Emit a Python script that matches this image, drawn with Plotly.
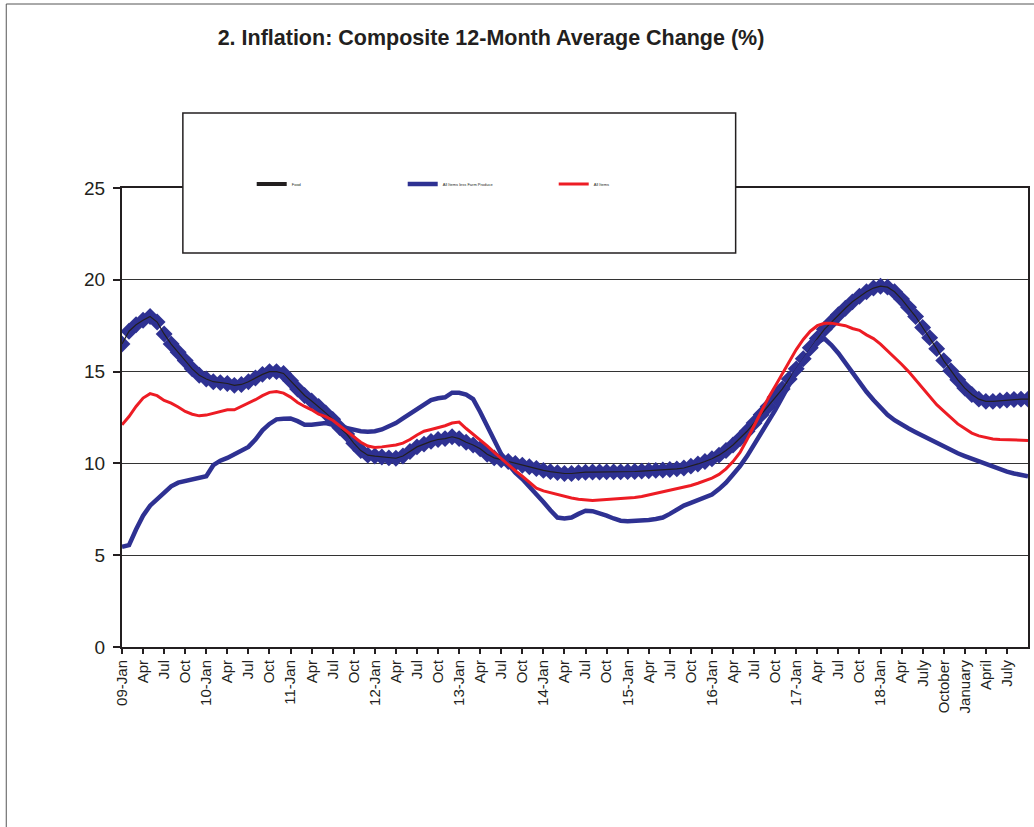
import plotly.graph_objects as go

# ---------------- data (monthly, Jan 2009 - Oct 2019) ----------------
months = [f"{y}-{m:02d}" for y in range(2009, 2020) for m in range(1, 13)][:130]

food = [
    16.5, 17.2, 17.55, 17.8, 18.0, 17.7, 17.05, 16.5, 16.05, 15.6, 15.15, 14.8,
    14.6, 14.45, 14.4, 14.35, 14.25, 14.3, 14.45, 14.65, 14.85, 15.0, 15.0, 14.9,
    14.5, 14.05, 13.7, 13.4, 13.1, 12.75, 12.4, 11.95, 11.6, 11.1, 10.7, 10.45,
    10.4, 10.35, 10.3, 10.28, 10.4, 10.65, 10.9, 11.05, 11.2, 11.3, 11.35, 11.45,
    11.35, 11.15, 11.0, 10.8, 10.5, 10.3, 10.2, 10.1, 10.0, 9.9, 9.82, 9.72,
    9.62, 9.55, 9.5, 9.45, 9.45, 9.5, 9.52, 9.53, 9.53, 9.54, 9.54, 9.54,
    9.55, 9.56, 9.58, 9.6, 9.62, 9.64, 9.67, 9.7, 9.75, 9.85, 9.97, 10.1,
    10.25, 10.45, 10.7, 11.0, 11.35, 11.75, 12.2, 12.65, 13.1, 13.6, 14.05, 14.6,
    15.15, 15.7, 16.3, 16.8, 17.3, 17.7, 18.1, 18.45, 18.8, 19.1, 19.35, 19.55,
    19.65, 19.6, 19.35, 18.95, 18.5, 18.0, 17.4, 16.85, 16.25, 15.6, 15.05, 14.55,
    14.1, 13.75, 13.5, 13.38, 13.38, 13.42, 13.45, 13.48, 13.5, 13.5,
]

core = [
    5.45, 5.55, 6.4, 7.15, 7.7, 8.05, 8.4, 8.75, 8.95, 9.05, 9.1, 9.2,
    9.3, 9.9, 10.15, 10.3, 10.5, 10.65, 10.9, 11.3, 11.8, 12.15, 12.4, 12.43,
    12.45, 12.3, 12.1, 12.1, 12.15, 12.2, 12.1, 12.0, 11.9, 11.8, 11.75, 11.73,
    11.75, 11.85, 12.0, 12.2, 12.45, 12.7, 12.95, 13.25, 13.45, 13.55, 13.6, 13.85,
    13.85, 13.75, 13.5, 12.8, 12.0, 11.2, 10.5, 9.95, 9.5, 9.15, 8.75, 8.3,
    7.9, 7.45, 7.05, 7.0, 7.05, 7.25, 7.42, 7.4, 7.3, 7.15, 7.0, 6.88,
    6.85, 6.86, 6.9, 6.92, 6.97, 7.05, 7.25, 7.5, 7.7, 7.85, 8.0, 8.15,
    8.3, 8.6, 8.95, 9.4, 9.85, 10.4, 11.0, 11.6, 12.25, 12.9, 13.6, 14.3,
    15.0, 15.55, 16.05, 16.6, 16.8, 16.45, 16.0, 15.45, 14.95, 14.4, 13.9, 13.45,
    13.05, 12.65, 12.35, 12.1, 11.9, 11.7, 11.5, 11.3, 11.1, 10.9, 10.75, 10.55,
    10.4, 10.25, 10.1, 9.95, 9.8, 9.68, 9.55, 9.45, 9.35, 9.3,
]

all_items = [
    12.1, 12.55, 13.1, 13.56, 13.8, 13.69, 13.43, 13.28, 13.07, 12.83, 12.68, 12.59,
    12.63, 12.74, 12.83, 12.92, 12.92, 13.1, 13.28, 13.47, 13.69, 13.87, 13.92, 13.83,
    13.61, 13.32, 13.1, 12.92, 12.68, 12.55, 12.35, 12.05, 11.7, 11.4, 11.15, 10.95,
    10.87, 10.9, 10.95, 11.0, 11.1, 11.3, 11.55, 11.75, 11.85, 11.95, 12.05, 12.2,
    12.25, 11.9, 11.6, 11.3, 10.95, 10.6, 10.25, 9.9, 9.6, 9.3, 9.0, 8.65,
    8.5, 8.4, 8.3, 8.2, 8.12, 8.05, 8.0, 7.98, 8.0, 8.02, 8.05, 8.07,
    8.1, 8.14, 8.2, 8.28, 8.37, 8.46, 8.55, 8.63, 8.72, 8.8, 8.92, 9.05,
    9.2, 9.4, 9.7, 10.1, 10.6, 11.3, 12.05, 12.8, 13.55, 14.2, 14.85, 15.5,
    16.2, 16.75, 17.2, 17.5, 17.63, 17.64, 17.58, 17.5, 17.35, 17.25, 17.0, 16.8,
    16.5, 16.15, 15.8, 15.4, 15.0, 14.55, 14.1, 13.65, 13.2, 12.85, 12.5, 12.15,
    11.9, 11.65, 11.5, 11.4, 11.33, 11.3, 11.28, 11.27, 11.25, 11.25,
]

tick_labels = [
    "09-Jan", "Apr", "Jul", "Oct", "10-Jan", "Apr", "Jul", "Oct",
    "11-Jan", "Apr", "Jul", "Oct", "12-Jan", "Apr", "Jul", "Oct",
    "13-Jan", "Apr", "Jul", "Oct", "14-Jan", "Apr", "Jul", "Oct",
    "15-Jan", "Apr", "Jul", "Oct", "16-Jan", "Apr", "Jul", "Oct",
    "17-Jan", "Apr", "Jul", "Oct", "18-Jan", "Apr", "July", "October",
    "January", "April", "July",
]
tick_vals = months[::3][:len(tick_labels)]

series_names = ["Food", "All Items less Farm Produce", "All Items"]

BLUE = "#2E3192"
RED = "#ED1C24"
BLACK = "#231F20"
FONT = "Liberation Sans, Arial, sans-serif"

fig = go.Figure()

# Food: blue diamond markers on a thin black line
fig.add_trace(go.Scatter(
    x=months, y=food, mode="markers", showlegend=False,
    marker=dict(symbol="diamond", size=13, color=BLUE, line=dict(width=0)),
    hoverinfo="skip",
))
fig.add_trace(go.Scatter(
    x=months, y=food, mode="lines", name=series_names[0], showlegend=False,
    line=dict(color=BLACK, width=1.2),
))
# legend-only entry for Food (thick black sample as in the original key)
fig.add_trace(go.Scatter(
    x=[None], y=[None], mode="lines", name=series_names[0],
    line=dict(color=BLACK, width=4),
))
fig.add_trace(go.Scatter(
    x=months, y=core, mode="lines", name=series_names[1],
    line=dict(color=BLUE, width=4.5),
))
fig.add_trace(go.Scatter(
    x=months, y=all_items, mode="lines", name=series_names[2],
    line=dict(color=RED, width=3),
))

W, H = 1034, 827
L, R, T, B = 122, 1030, 188, 647
pw, ph = R - L, B - T

def px_x(p):
    return (p - L) / pw

def px_y(p):
    return (B - p) / ph

fig.update_layout(
    width=W, height=H,
    margin=dict(l=L, r=W - R, t=T, b=H - B, pad=0),
    paper_bgcolor="white", plot_bgcolor="white",
    font=dict(family=FONT, color=BLACK),
    title=dict(
        text="<b>2. Inflation: Composite 12-Month Average Change (%)</b>",
        x=491 / W, xref="container", xanchor="center",
        y=1 - 37 / H, yref="container", yanchor="middle",
        font=dict(size=21.5, family=FONT, color=BLACK),
    ),
    showlegend=True,
    legend=dict(
        orientation="h", x=px_x(252), y=px_y(184), xanchor="left", yanchor="middle",
        font=dict(size=4, family=FONT, color=BLACK),
        bgcolor="rgba(0,0,0,0)", borderwidth=0,
        entrywidth=106, entrywidthmode="pixels",
        itemclick=False, itemdoubleclick=False,
    ),
    xaxis=dict(
        type="category", range=[0, len(months) - 1],
        tickmode="array", tickvals=tick_vals, ticktext=tick_labels,
        tickangle=-90, tickfont=dict(size=15, family=FONT, color=BLACK),
        ticks="outside", ticklen=5, tickwidth=1.5, tickcolor=BLACK,
        showline=True, linecolor=BLACK, linewidth=2, mirror=True,
        showgrid=False, zeroline=False,
    ),
    yaxis=dict(
        range=[0, 25], dtick=5, tick0=0,
        tickfont=dict(size=19, family=FONT, color=BLACK),
        ticks="outside", ticklen=7, tickwidth=1.5, tickcolor=BLACK,
        ticklabelstandoff=4,
        showline=True, linecolor=BLACK, linewidth=2, mirror=True,
        showgrid=True, gridcolor="#333333", gridwidth=1, zeroline=False,
    ),
    shapes=[
        # outer chart border
        dict(type="rect", xref="paper", yref="paper",
             x0=px_x(6), x1=px_x(1040), y0=px_y(840), y1=px_y(4),
             line=dict(color="#555555", width=1), fillcolor="rgba(0,0,0,0)",
             layer="below"),
        # legend box
        dict(type="rect", xref="paper", yref="paper",
             x0=px_x(183), x1=px_x(737), y0=px_y(253), y1=px_y(113),
             line=dict(color=BLACK, width=1.5), fillcolor="white",
             layer="above"),
    ],
)

fig.write_html(
    "out.html",
    config={"displayModeBar": False},
    post_script="document.body.style.margin='0';document.body.style.overflow='hidden';",
)
